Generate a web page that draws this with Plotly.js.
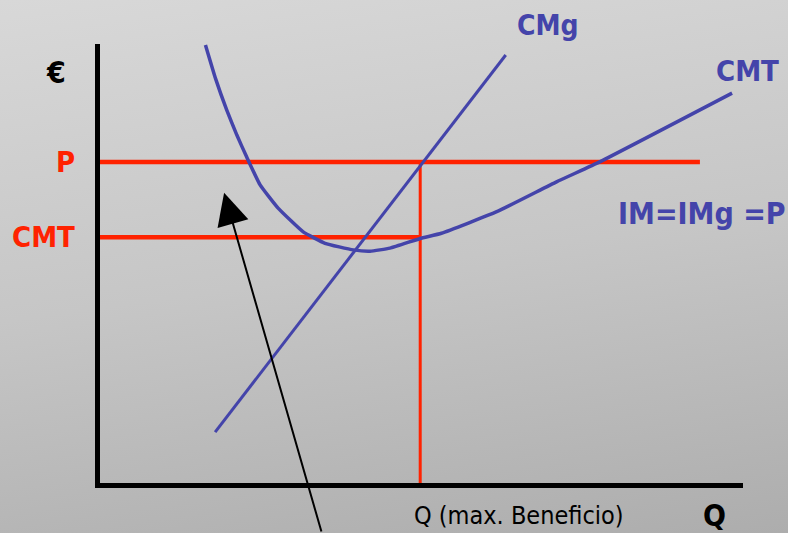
<!DOCTYPE html>
<html>
<head>
<meta charset="utf-8">
<script src="https://cdn.plot.ly/plotly-3.0.1.min.js"></script>
<style>
  html, body { margin: 0; padding: 0; }
  body { width: 788px; height: 533px; overflow: hidden;
         background: linear-gradient(172deg, #d8d8d8 0%, #c6c6c6 50%, #adadad 100%); }
  #chart { width: 788px; height: 533px; }
</style>
</head>
<body>
<div id="chart"></div>
<script>
// Quantity (x) and cost/price in € (y), arbitrary units 0..100
const cmtQ = [16.4, 18.0, 19.7, 21.3, 22.8, 24.9, 27.7, 31.6, 35.0, 39.4, 42.0, 45.1, 49.8, 53.1, 61.7, 71.0, 77.8, 98.3];
const cmtC = [99.8, 92.0, 85.0, 79.2, 74.3, 67.9, 62.6, 57.2, 54.6, 53.1, 52.8, 53.5, 55.7, 56.9, 61.8, 68.6, 73.2, 88.8];
const cmgQ = [17.9, 63.1];
const cmgC = [11.6, 97.5];
const priceP = 73.1;       // IM = IMg = P
const priceEnd = 93.3;     // right end of price line
const qOpt = 49.8;         // Q (max. Beneficio)
const cmtAtQ = 56.0;       // CMT at optimal Q
const arrowTip = [19.3, 66.1];
const arrowTail = [34.5, -11.4];

const blue = '#4444AA';
const red = '#FF2200';
const fontB = 'DejaVu Sans Condensed, Liberation Sans, Arial, sans-serif';

const traces = [
  { x: [0, priceEnd], y: [priceP, priceP], mode: 'lines', line: { color: red, width: 4.5 }, hoverinfo: 'skip' },
  { x: [0, qOpt], y: [cmtAtQ, cmtAtQ], mode: 'lines', line: { color: red, width: 4.5 }, hoverinfo: 'skip' },
  { x: [qOpt, qOpt], y: [0, priceP], mode: 'lines', line: { color: red, width: 3 }, hoverinfo: 'skip' },
  { x: cmgQ, y: cmgC, mode: 'lines', line: { color: blue, width: 3 }, hoverinfo: 'skip' },
  { x: cmtQ, y: cmtC, mode: 'lines', line: { color: blue, width: 3.5, shape: 'spline', smoothing: 0.4 }, hoverinfo: 'skip' }
];

const layout = {
  width: 788, height: 533,
  margin: { l: 100, r: 45, t: 44, b: 50 },
  paper_bgcolor: 'rgba(0,0,0,0)',
  plot_bgcolor: 'rgba(0,0,0,0)',
  showlegend: false,
  xaxis: { range: [0, 100], showgrid: false, zeroline: false, showticklabels: false, ticks: '',
           showline: true, linecolor: '#000', linewidth: 5, fixedrange: true },
  yaxis: { range: [0, 100], showgrid: false, zeroline: false, showticklabels: false, ticks: '',
           showline: true, linecolor: '#000', linewidth: 5, fixedrange: true },
  annotations: [
    { xref: 'paper', yref: 'paper', x: -0.068, y: 0.935, text: '<b>€</b>', showarrow: false,
      font: { family: fontB, size: 30, color: '#000' }, xanchor: 'center', yanchor: 'middle' },
    { xref: 'paper', x: -0.035, y: priceP, text: '<b>P</b>', showarrow: false,
      font: { family: fontB, size: 29, color: red }, xanchor: 'right', yanchor: 'middle' },
    { xref: 'paper', x: -0.035, y: cmtAtQ, text: '<b>CMT</b>', showarrow: false,
      font: { family: fontB, size: 29, color: red }, xanchor: 'right', yanchor: 'middle' },
    { xref: 'paper', yref: 'paper', x: 0.697, y: 1.043, text: '<b>CMg</b>', showarrow: false,
      font: { family: fontB, size: 28, color: blue }, xanchor: 'center', yanchor: 'middle' },
    { x: 95.5, y: 93.8, text: '<b>CMT</b>', showarrow: false,
      font: { family: fontB, size: 29, color: blue }, xanchor: 'left', yanchor: 'middle' },
    { x: 80.3, y: 61.5, text: '<b>IM=IMg =P</b>', showarrow: false,
      font: { family: fontB, size: 30, color: blue }, xanchor: 'left', yanchor: 'middle' },
    { xref: 'paper', yref: 'paper', x: 0.485, y: -0.073, text: 'Q (max. Beneficio)', showarrow: false,
      font: { family: fontB, size: 25, color: '#000' }, xanchor: 'left', yanchor: 'middle' },
    { xref: 'paper', yref: 'paper', x: 0.956, y: -0.073, text: '<b>Q</b>', showarrow: false,
      font: { family: fontB, size: 30, color: '#000' }, xanchor: 'center', yanchor: 'middle' },
    { x: arrowTip[0], y: arrowTip[1], ax: arrowTail[0], ay: arrowTail[1], axref: 'x', ayref: 'y',
      text: '', showarrow: true, arrowhead: 2, arrowsize: 3.2, arrowwidth: 2, arrowcolor: '#000' }
  ]
};

Plotly.newPlot('chart', traces, layout, { displayModeBar: false, staticPlot: true });
</script>
</body>
</html>
